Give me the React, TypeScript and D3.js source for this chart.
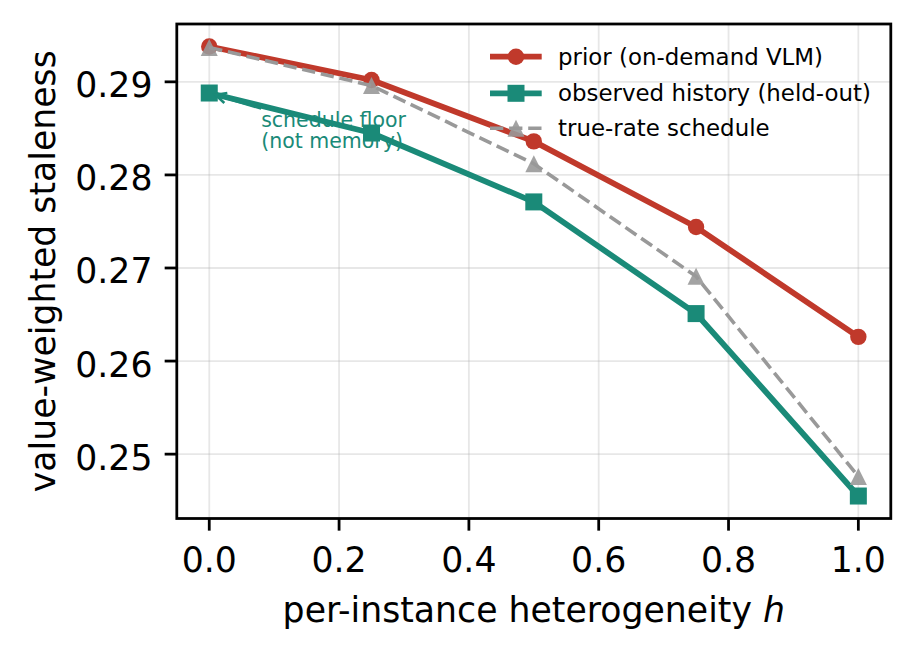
import React, { useEffect, useRef } from 'react'
import * as d3 from 'd3'

// values
const hValues = [0, 0.25, 0.5, 0.75, 1.0]
const priorValues = [0.2938, 0.2902, 0.2836, 0.2744, 0.2626]
const observedValues = [0.2888, 0.2845, 0.2771, 0.2651, 0.2455]
const scheduleValues = [0.2937, 0.2896, 0.2812, 0.2691, 0.2476]

const xTicks = [0, 0.2, 0.4, 0.6, 0.8, 1.0]
const yTicks = [0.25, 0.26, 0.27, 0.28, 0.29]

const seriesNames = ['prior (on-demand VLM)', 'observed history (held-out)', 'true-rate schedule']

const RED = '#c0392b'
const TEAL = '#1a8a78'
const GRAY = '#999999'
const FONT = 'DejaVu Sans, sans-serif'

const W = 917
const H = 656
const plot = { left: 176.8, right: 890.8, top: 24, bottom: 518.5 }
const PT = 3.47 // px per point (figure rendered at ~250 dpi)

const App: React.FC = () => {
  const svgRef = useRef<SVGSVGElement>(null)

  useEffect(() => {
    if (!svgRef.current) return
    const svg = d3.select(svgRef.current)
    svg.selectAll('*').remove()

    // matplotlib-style 5% margins
    const allY = [...priorValues, ...observedValues, ...scheduleValues]
    const [yMin, yMax] = d3.extent(allY) as [number, number]
    const yPad = (yMax - yMin) * 0.05
    const x = d3.scaleLinear().domain([-0.05, 1.05]).range([plot.left, plot.right])
    const y = d3.scaleLinear().domain([yMin - yPad, yMax + yPad]).range([plot.bottom, plot.top])

    svg.append('rect')
      .attr('width', W).attr('height', H).attr('fill', '#fff')

    // grid
    const grid = svg.append('g').attr('stroke', '#b0b0b0').attr('stroke-opacity', 0.3).attr('stroke-width', 1.8)
    xTicks.forEach(t => {
      grid.append('line').attr('x1', x(t)).attr('x2', x(t)).attr('y1', plot.top).attr('y2', plot.bottom)
    })
    yTicks.forEach(t => {
      grid.append('line').attr('x1', plot.left).attr('x2', plot.right).attr('y1', y(t)).attr('y2', y(t))
    })

    const line = (vals: number[]) =>
      d3.line<number>().x((_, i) => x(hValues[i])).y(d => y(d))(vals) as string

    const triangle = (s: number) => `M0,${-s / 2}L${-s / 2},${s / 2}L${s / 2},${s / 2}Z`

    // prior
    svg.append('path').attr('d', line(priorValues)).attr('fill', 'none')
      .attr('stroke', RED).attr('stroke-width', 5.8).attr('stroke-linejoin', 'round')
    svg.append('g').selectAll('circle').data(priorValues).enter().append('circle')
      .attr('cx', (_, i) => x(hValues[i])).attr('cy', d => y(d)).attr('r', 8.2).attr('fill', RED)

    // observed
    svg.append('path').attr('d', line(observedValues)).attr('fill', 'none')
      .attr('stroke', TEAL).attr('stroke-width', 5.8).attr('stroke-linejoin', 'round')
    svg.append('g').selectAll('rect').data(observedValues).enter().append('rect')
      .attr('x', (_, i) => x(hValues[i]) - 8.5).attr('y', d => y(d) - 8.5)
      .attr('width', 17).attr('height', 17).attr('fill', TEAL)

    // schedule
    svg.append('path').attr('d', line(scheduleValues)).attr('fill', 'none')
      .attr('stroke', GRAY).attr('stroke-width', 3.6).attr('stroke-dasharray', '13.3 5.8')
    svg.append('g').selectAll('path').data(scheduleValues).enter().append('path')
      .attr('d', triangle(17))
      .attr('transform', (d, i) => `translate(${x(hValues[i])},${y(d)})`)
      .attr('fill', GRAY).attr('fill-opacity', 0.9)

    // annotation
    const note = svg.append('text')
      .attr('x', x(0.08)).attr('y', y(0.2852))
      .attr('font-family', FONT).attr('font-size', 20.5).attr('fill', TEAL)
    note.append('tspan').attr('x', x(0.08)).text('schedule floor')
    note.append('tspan').attr('x', x(0.08)).attr('dy', 21.7).text('(not memory)')

    const bb = (note.node() as SVGTextElement).getBBox()
    const cx = bb.x + bb.width / 2
    const cy = bb.y + bb.height / 2
    const tx = x(0)
    const ty = y(observedValues[0])
    const dx = tx - cx
    const dy = ty - cy
    // clip at text bbox edge
    const tEdge = Math.min(Math.abs((bb.width / 2) / dx), Math.abs((bb.height / 2) / dy))
    const sx = cx + dx * tEdge
    const sy = cy + dy * tEdge
    const len = Math.hypot(tx - sx, ty - sy)
    const ux = (tx - sx) / len
    const uy = (ty - sy) / len
    const ex = tx - ux * 6.5
    const ey = ty - uy * 6.5
    svg.append('line').attr('x1', sx).attr('y1', sy).attr('x2', ex).attr('y2', ey)
      .attr('stroke', TEAL).attr('stroke-width', 2.6)
    const ang = Math.atan2(uy, ux)
    const hl = 12
    const hw = 0.45
    svg.append('path')
      .attr('d', `M${ex - hl * Math.cos(ang - hw)},${ey - hl * Math.sin(ang - hw)}L${ex},${ey}L${ex - hl * Math.cos(ang + hw)},${ey - hl * Math.sin(ang + hw)}`)
      .attr('fill', 'none').attr('stroke', TEAL).attr('stroke-width', 2.6)

    // axes frame
    svg.append('rect')
      .attr('x', plot.left).attr('y', plot.top)
      .attr('width', plot.right - plot.left).attr('height', plot.bottom - plot.top)
      .attr('fill', 'none').attr('stroke', '#000').attr('stroke-width', 0.8 * PT)

    // ticks
    const tickLen = 3.5 * PT
    const axes = svg.append('g').attr('font-family', FONT).attr('font-size', 10 * PT)
    xTicks.forEach(t => {
      axes.append('line').attr('x1', x(t)).attr('x2', x(t)).attr('y1', plot.bottom).attr('y2', plot.bottom + tickLen)
        .attr('stroke', '#000').attr('stroke-width', 0.8 * PT)
      axes.append('text').attr('x', x(t)).attr('y', 571.5).attr('text-anchor', 'middle').text(d3.format('.1f')(t))
    })
    yTicks.forEach(t => {
      axes.append('line').attr('x1', plot.left - tickLen).attr('x2', plot.left).attr('y1', y(t)).attr('y2', y(t))
        .attr('stroke', '#000').attr('stroke-width', 0.8 * PT)
      axes.append('text').attr('x', plot.left - 2 * tickLen).attr('y', y(t) + 15.5).attr('text-anchor', 'end').text(d3.format('.2f')(t))
    })

    // axis labels
    const xl = svg.append('text')
      .attr('x', (plot.left + plot.right) / 2).attr('y', 622)
      .attr('text-anchor', 'middle').attr('font-family', FONT).attr('font-size', 10 * PT)
    xl.append('tspan').text('per-instance heterogeneity ')
    xl.append('tspan').attr('font-style', 'italic').text('h')

    svg.append('text')
      .attr('transform', `translate(55,${(plot.top + plot.bottom) / 2}) rotate(-90)`)
      .attr('text-anchor', 'middle').attr('font-family', FONT).attr('font-size', 10 * PT)
      .text('value-weighted staleness')

    // legend
    const rows = [56.7, 93.3, 128.3]
    const lg = svg.append('g')
    seriesNames.forEach((name, i) => {
      const ry = rows[i]
      const color = [RED, TEAL, GRAY][i]
      lg.append('line').attr('x1', 490).attr('x2', 541.7).attr('y1', ry).attr('y2', ry)
        .attr('stroke', color).attr('stroke-width', i === 2 ? 3.6 : 5.8)
        .attr('stroke-dasharray', i === 2 ? '13.3 5.8' : null)
      if (i === 0) lg.append('circle').attr('cx', 516).attr('cy', ry).attr('r', 8.2).attr('fill', RED)
      if (i === 1) lg.append('rect').attr('x', 507.5).attr('y', ry - 8.5).attr('width', 17).attr('height', 17).attr('fill', TEAL)
      if (i === 2) lg.append('path').attr('d', triangle(17)).attr('transform', `translate(516,${ry})`)
        .attr('fill', GRAY).attr('fill-opacity', 0.9)
      lg.append('text').attr('x', 558).attr('y', ry + 8)
        .attr('font-family', FONT).attr('font-size', 22.9).text(name)
    })
  }, [])

  return (
    <svg
      ref={svgRef}
      width={W}
      height={H}
      style={{ position: 'absolute', left: 0, top: 0 }}
    />
  )
}

export default App
